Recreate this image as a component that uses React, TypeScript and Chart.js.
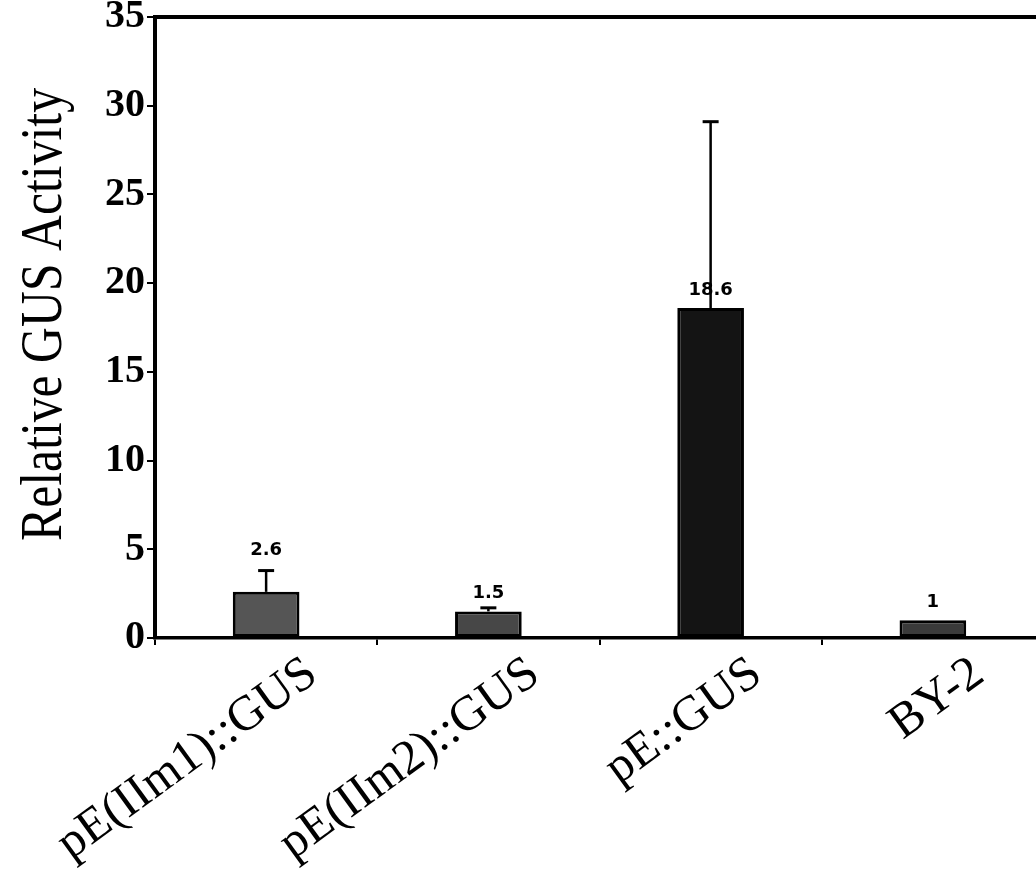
import React, { useEffect, useRef } from "react";
import { Chart, registerables } from "chart.js";

Chart.register(...registerables);

const categories = ["pE(IIm1)::GUS", "pE(IIm2)::GUS", "pE::GUS", "BY-2"];
const values = [2.6, 1.5, 18.6, 1];
const errorTops = [3.8, 1.7, 29.1, 1];
const valueLabels = ["2.6", "1.5", "18.6", "1"];
const labelAboveError = [true, false, false, false];
const barColors = ["#555555", "#474747", "#141414", "#3a3a3a"];
const yTicks = [0, 5, 10, 15, 20, 25, 30, 35];
const yTitle = "Relative GUS Activity";

const errorBarPlugin = {
  id: "errorBars",
  afterDatasetsDraw(chart: any) {
    const { ctx } = chart;
    const meta = chart.getDatasetMeta(0);
    const y = chart.scales.y;
    ctx.save();
    ctx.strokeStyle = "#000";
    meta.data.forEach((bar: any, i: number) => {
      if (errorTops[i] <= values[i]) return;
      const x = bar.x;
      const yTop = y.getPixelForValue(errorTops[i]);
      const yBase = y.getPixelForValue(values[i]);
      ctx.lineWidth = 2.5;
      ctx.beginPath();
      ctx.moveTo(x, yBase);
      ctx.lineTo(x, yTop);
      ctx.stroke();
      ctx.lineWidth = 3;
      ctx.beginPath();
      ctx.moveTo(x - 8, yTop);
      ctx.lineTo(x + 8, yTop);
      ctx.stroke();
    });
    ctx.fillStyle = "#000";
    ctx.font = "bold 18px 'DejaVu Sans'";
    ctx.textAlign = "center";
    ctx.textBaseline = "alphabetic";
    meta.data.forEach((bar: any, i: number) => {
      const ref = labelAboveError[i] ? errorTops[i] : values[i];
      const py = y.getPixelForValue(ref) - (labelAboveError[i] ? 16 : 13);
      ctx.fillText(valueLabels[i], bar.x, py);
    });
    ctx.restore();
  },
  afterDraw(chart: any) {
    const { ctx, chartArea } = chart;
    ctx.save();
    ctx.fillStyle = "#000";
    ctx.font = "51px 'Liberation Serif'";
    ctx.textAlign = "center";
    ctx.textBaseline = "middle";
    ctx.translate(45, (chartArea.top + chartArea.bottom) / 2 - 13);
    ctx.rotate(-Math.PI / 2);
    ctx.scale(0.975, 1.17);
    ctx.fillText(yTitle, 0, 0);
    ctx.restore();
  },
};

export default function App() {
  const ref = useRef<HTMLCanvasElement>(null);
  useEffect(() => {
    if (!ref.current) return;
    const chart = new Chart(ref.current, {
      type: "bar",
      data: {
        labels: categories,
        datasets: [
          {
            data: values,
            backgroundColor: barColors,
            borderColor: "#000",
            borderWidth: 3,
            borderSkipped: false,
            barPercentage: 0.3,
            categoryPercentage: 1,
            xAxisID: "x",
          },
        ],
      },
      options: {
        animation: false,
        responsive: false,
        events: [],
        layout: { padding: { top: 17, right: 6, left: 0, bottom: 0 } },
        plugins: { legend: { display: false }, tooltip: { enabled: false } },
        scales: {
          x: {
            position: "bottom",
            afterFit: (s: any) => {
              s.height = 232;
              s.paddingLeft = 0;
              s.paddingRight = 0;
            },
            border: { display: true, color: "#000", width: 3.5 },
            grid: {
              drawOnChartArea: false,
              drawTicks: true,
              tickLength: 7,
              color: "#000",
              lineWidth: 2,
              offset: true,
            },
            ticks: {
              color: "#000",
              font: { family: "'Liberation Serif'", size: 49 },
              minRotation: 36,
              maxRotation: 36,
              autoSkip: false,
              padding: 0,
              labelOffset: 46,
            },
          },
          x2: {
            position: "top",
            afterFit: (s: any) => {
              s.height = 0;
              s.paddingLeft = 0;
              s.paddingRight = 0;
            },
            border: { display: true, color: "#000", width: 4 },
            grid: { display: false, drawTicks: false },
            ticks: { display: false },
          },
          y: {
            min: 0,
            max: 35,
            afterFit: (s: any) => {
              s.width = 155;
              s.paddingTop = 0;
              s.paddingBottom = 0;
            },
            afterBuildTicks: (s: any) => {
              s.ticks = yTicks.map((v) => ({ value: v }));
            },
            border: { display: true, color: "#000", width: 4 },
            grid: {
              drawOnChartArea: false,
              drawTicks: true,
              tickLength: 8,
              color: "#000",
              lineWidth: 2,
            },
            ticks: {
              color: "#000",
              font: { family: "'Liberation Serif'", size: 40, weight: "bold" },
              padding: 2,
            },
            title: { display: false },
          },
        },
      },
      plugins: [errorBarPlugin],
    });
    return () => chart.destroy();
  }, []);
  return (
    <div
      style={{
        position: "absolute",
        left: 0,
        top: 0,
        width: 1036,
        height: 870,
        overflow: "hidden",
        background: "#fff",
      }}
    >
      <canvas ref={ref} width={1050} height={870} style={{ display: "block" }} />
    </div>
  );
}
